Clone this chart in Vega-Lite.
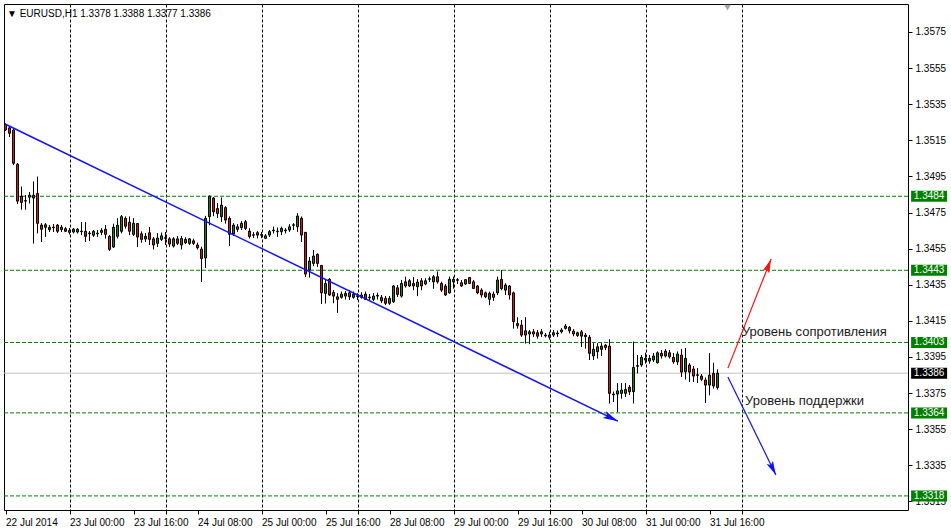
{
"$schema": "https://vega.github.io/schema/vega-lite/v6.json",
"width": 904, "height": 506,
"autosize": "none",
"padding": {"left": 4, "top": 4, "right": 43, "bottom": 20},
"background": "white",
"config": {"view": {"stroke": "#000", "strokeWidth": 1}, "font": "Liberation Sans", "axis": {"labelOverlap": false}, "scale": {"continuousPadding": 0}},
"title": {"text": "▼ EURUSD,H1   1.3378 1.3388 1.3377 1.3386", "anchor": "start", "orient": "top", "offset": -15, "dx": 5, "fontSize": 10, "fontWeight": "normal", "font": "Liberation Sans", "color": "#000"},
"datasets": {
"candles": [
{"i":0,"o":1.35237,"h":1.35243,"l":1.35201,"c":1.35207},
{"i":1,"o":1.35219,"h":1.35225,"l":1.35168,"c":1.35189},
{"i":2,"o":1.35207,"h":1.35213,"l":1.35013,"c":1.35023},
{"i":3,"o":1.35017,"h":1.35024,"l":1.34797,"c":1.34813},
{"i":4,"o":1.34841,"h":1.34893,"l":1.34767,"c":1.34806},
{"i":5,"o":1.34813,"h":1.34846,"l":1.34767,"c":1.34816},
{"i":6,"o":1.34835,"h":1.34863,"l":1.34801,"c":1.34846},
{"i":7,"o":1.34830,"h":1.34921,"l":1.34579,"c":1.34846},
{"i":8,"o":1.34856,"h":1.34948,"l":1.34635,"c":1.34690},
{"i":9,"o":1.34680,"h":1.34690,"l":1.34588,"c":1.34657},
{"i":10,"o":1.34668,"h":1.34690,"l":1.34616,"c":1.34682},
{"i":11,"o":1.34668,"h":1.34680,"l":1.34642,"c":1.34655},
{"i":12,"o":1.34669,"h":1.34686,"l":1.34642,"c":1.34666},
{"i":13,"o":1.34680,"h":1.34686,"l":1.34636,"c":1.34646},
{"i":14,"o":1.34655,"h":1.34680,"l":1.34642,"c":1.34669},
{"i":15,"o":1.34660,"h":1.34669,"l":1.34642,"c":1.34646},
{"i":16,"o":1.34651,"h":1.34664,"l":1.34629,"c":1.34640},
{"i":17,"o":1.34642,"h":1.34664,"l":1.34635,"c":1.34658},
{"i":18,"o":1.34642,"h":1.34662,"l":1.34635,"c":1.34657},
{"i":19,"o":1.34647,"h":1.34697,"l":1.34625,"c":1.34644},
{"i":20,"o":1.34646,"h":1.34695,"l":1.34588,"c":1.34618},
{"i":21,"o":1.34632,"h":1.34647,"l":1.34592,"c":1.34636},
{"i":22,"o":1.34624,"h":1.34653,"l":1.34616,"c":1.34646},
{"i":23,"o":1.34632,"h":1.34653,"l":1.34616,"c":1.34636},
{"i":24,"o":1.34640,"h":1.34662,"l":1.34625,"c":1.34651},
{"i":25,"o":1.34657,"h":1.34680,"l":1.34607,"c":1.34629},
{"i":26,"o":1.34618,"h":1.34625,"l":1.34538,"c":1.34546},
{"i":27,"o":1.34559,"h":1.34687,"l":1.34555,"c":1.34668},
{"i":28,"o":1.34618,"h":1.34717,"l":1.34607,"c":1.34680},
{"i":29,"o":1.34646,"h":1.34736,"l":1.34635,"c":1.34727},
{"i":30,"o":1.34718,"h":1.34727,"l":1.34662,"c":1.34674},
{"i":31,"o":1.34696,"h":1.34727,"l":1.34625,"c":1.34646},
{"i":32,"o":1.34629,"h":1.34718,"l":1.34621,"c":1.34690},
{"i":33,"o":1.34689,"h":1.34690,"l":1.34559,"c":1.34614},
{"i":34,"o":1.34632,"h":1.34644,"l":1.34584,"c":1.34601},
{"i":35,"o":1.34603,"h":1.34635,"l":1.34588,"c":1.34618},
{"i":36,"o":1.34638,"h":1.34669,"l":1.34570,"c":1.34601},
{"i":37,"o":1.34604,"h":1.34614,"l":1.34546,"c":1.34570},
{"i":38,"o":1.34579,"h":1.34635,"l":1.34560,"c":1.34608},
{"i":39,"o":1.34601,"h":1.34638,"l":1.34593,"c":1.34621},
{"i":40,"o":1.34611,"h":1.34642,"l":1.34570,"c":1.34606},
{"i":41,"o":1.34604,"h":1.34612,"l":1.34560,"c":1.34575},
{"i":42,"o":1.34564,"h":1.34612,"l":1.34557,"c":1.34604},
{"i":43,"o":1.34604,"h":1.34620,"l":1.34570,"c":1.34579},
{"i":44,"o":1.34570,"h":1.34620,"l":1.34546,"c":1.34606},
{"i":45,"o":1.34601,"h":1.34612,"l":1.34575,"c":1.34582},
{"i":46,"o":1.34579,"h":1.34608,"l":1.34570,"c":1.34604},
{"i":47,"o":1.34593,"h":1.34604,"l":1.34571,"c":1.34579},
{"i":48,"o":1.34570,"h":1.34582,"l":1.34546,"c":1.34555},
{"i":49,"o":1.34547,"h":1.34560,"l":1.34366,"c":1.34495},
{"i":50,"o":1.34498,"h":1.34731,"l":1.34444,"c":1.34718},
{"i":51,"o":1.34727,"h":1.34843,"l":1.34680,"c":1.34840},
{"i":52,"o":1.34830,"h":1.34836,"l":1.34730,"c":1.34754},
{"i":53,"o":1.34772,"h":1.34802,"l":1.34721,"c":1.34744},
{"i":54,"o":1.34727,"h":1.34832,"l":1.34699,"c":1.34791},
{"i":55,"o":1.34777,"h":1.34783,"l":1.34690,"c":1.34708},
{"i":56,"o":1.34718,"h":1.34727,"l":1.34566,"c":1.34629},
{"i":57,"o":1.34631,"h":1.34690,"l":1.34620,"c":1.34680},
{"i":58,"o":1.34671,"h":1.34685,"l":1.34644,"c":1.34657},
{"i":59,"o":1.34666,"h":1.34703,"l":1.34653,"c":1.34690},
{"i":60,"o":1.34699,"h":1.34708,"l":1.34653,"c":1.34662},
{"i":61,"o":1.34647,"h":1.34662,"l":1.34607,"c":1.34617},
{"i":62,"o":1.34627,"h":1.34640,"l":1.34610,"c":1.34624},
{"i":63,"o":1.34638,"h":1.34647,"l":1.34607,"c":1.34625},
{"i":64,"o":1.34624,"h":1.34642,"l":1.34608,"c":1.34628},
{"i":65,"o":1.34607,"h":1.34629,"l":1.34603,"c":1.34621},
{"i":66,"o":1.34625,"h":1.34653,"l":1.34616,"c":1.34644},
{"i":67,"o":1.34649,"h":1.34671,"l":1.34635,"c":1.34653},
{"i":68,"o":1.34644,"h":1.34666,"l":1.34616,"c":1.34647},
{"i":69,"o":1.34644,"h":1.34671,"l":1.34625,"c":1.34662},
{"i":70,"o":1.34649,"h":1.34662,"l":1.34635,"c":1.34653},
{"i":71,"o":1.34653,"h":1.34684,"l":1.34644,"c":1.34671},
{"i":72,"o":1.34679,"h":1.34690,"l":1.34653,"c":1.34682},
{"i":73,"o":1.34671,"h":1.34745,"l":1.34644,"c":1.34730},
{"i":74,"o":1.34718,"h":1.34727,"l":1.34588,"c":1.34625},
{"i":75,"o":1.34640,"h":1.34642,"l":1.34394,"c":1.34409},
{"i":76,"o":1.34431,"h":1.34502,"l":1.34391,"c":1.34481},
{"i":77,"o":1.34468,"h":1.34542,"l":1.34453,"c":1.34509},
{"i":78,"o":1.34518,"h":1.34523,"l":1.34450,"c":1.34468},
{"i":79,"o":1.34457,"h":1.34459,"l":1.34243,"c":1.34305},
{"i":80,"o":1.34302,"h":1.34381,"l":1.34247,"c":1.34357},
{"i":81,"o":1.34380,"h":1.34385,"l":1.34289,"c":1.34293},
{"i":82,"o":1.34307,"h":1.34320,"l":1.34248,"c":1.34287},
{"i":83,"o":1.34283,"h":1.34302,"l":1.34195,"c":1.34269},
{"i":84,"o":1.34280,"h":1.34311,"l":1.34274,"c":1.34298},
{"i":85,"o":1.34287,"h":1.34315,"l":1.34269,"c":1.34302},
{"i":86,"o":1.34305,"h":1.34320,"l":1.34265,"c":1.34283},
{"i":87,"o":1.34280,"h":1.34311,"l":1.34274,"c":1.34298},
{"i":88,"o":1.34289,"h":1.34302,"l":1.34265,"c":1.34285},
{"i":89,"o":1.34280,"h":1.34307,"l":1.34274,"c":1.34293},
{"i":90,"o":1.34298,"h":1.34311,"l":1.34265,"c":1.34269},
{"i":91,"o":1.34278,"h":1.34298,"l":1.34261,"c":1.34281},
{"i":92,"o":1.34269,"h":1.34302,"l":1.34261,"c":1.34287},
{"i":93,"o":1.34287,"h":1.34305,"l":1.34269,"c":1.34291},
{"i":94,"o":1.34280,"h":1.34293,"l":1.34250,"c":1.34261},
{"i":95,"o":1.34274,"h":1.34287,"l":1.34237,"c":1.34247},
{"i":96,"o":1.34247,"h":1.34287,"l":1.34239,"c":1.34274},
{"i":97,"o":1.34256,"h":1.34348,"l":1.34250,"c":1.34343},
{"i":98,"o":1.34333,"h":1.34348,"l":1.34283,"c":1.34296},
{"i":99,"o":1.34287,"h":1.34376,"l":1.34280,"c":1.34357},
{"i":100,"o":1.34366,"h":1.34394,"l":1.34335,"c":1.34343},
{"i":101,"o":1.34343,"h":1.34380,"l":1.34339,"c":1.34372},
{"i":102,"o":1.34357,"h":1.34391,"l":1.34320,"c":1.34343},
{"i":103,"o":1.34339,"h":1.34380,"l":1.34287,"c":1.34365},
{"i":104,"o":1.34372,"h":1.34385,"l":1.34320,"c":1.34343},
{"i":105,"o":1.34354,"h":1.34385,"l":1.34348,"c":1.34372},
{"i":106,"o":1.34380,"h":1.34394,"l":1.34366,"c":1.34383},
{"i":107,"o":1.34366,"h":1.34403,"l":1.34329,"c":1.34394},
{"i":108,"o":1.34394,"h":1.34422,"l":1.34357,"c":1.34366},
{"i":109,"o":1.34357,"h":1.34366,"l":1.34311,"c":1.34320},
{"i":110,"o":1.34343,"h":1.34354,"l":1.34289,"c":1.34293},
{"i":111,"o":1.34305,"h":1.34394,"l":1.34302,"c":1.34380},
{"i":112,"o":1.34366,"h":1.34394,"l":1.34329,"c":1.34380},
{"i":113,"o":1.34378,"h":1.34385,"l":1.34354,"c":1.34374},
{"i":114,"o":1.34361,"h":1.34376,"l":1.34339,"c":1.34343},
{"i":115,"o":1.34354,"h":1.34380,"l":1.34350,"c":1.34378},
{"i":116,"o":1.34390,"h":1.34392,"l":1.34354,"c":1.34357},
{"i":117,"o":1.34366,"h":1.34376,"l":1.34326,"c":1.34329},
{"i":118,"o":1.34343,"h":1.34348,"l":1.34298,"c":1.34305},
{"i":119,"o":1.34320,"h":1.34329,"l":1.34280,"c":1.34293},
{"i":120,"o":1.34305,"h":1.34311,"l":1.34276,"c":1.34283},
{"i":121,"o":1.34269,"h":1.34311,"l":1.34237,"c":1.34302},
{"i":122,"o":1.34298,"h":1.34311,"l":1.34261,"c":1.34280},
{"i":123,"o":1.34305,"h":1.34394,"l":1.34293,"c":1.34376},
{"i":124,"o":1.34380,"h":1.34431,"l":1.34320,"c":1.34329},
{"i":125,"o":1.34320,"h":1.34357,"l":1.34293,"c":1.34348},
{"i":126,"o":1.34343,"h":1.34348,"l":1.34269,"c":1.34293},
{"i":127,"o":1.34305,"h":1.34311,"l":1.34108,"c":1.34145},
{"i":128,"o":1.34135,"h":1.34169,"l":1.34108,"c":1.34123},
{"i":129,"o":1.34126,"h":1.34154,"l":1.34062,"c":1.34071},
{"i":130,"o":1.34095,"h":1.34169,"l":1.34025,"c":1.34071},
{"i":131,"o":1.34077,"h":1.34099,"l":1.34021,"c":1.34089},
{"i":132,"o":1.34089,"h":1.34103,"l":1.34062,"c":1.34077},
{"i":133,"o":1.34084,"h":1.34099,"l":1.34052,"c":1.34065},
{"i":134,"o":1.34077,"h":1.34103,"l":1.34062,"c":1.34089},
{"i":135,"o":1.34067,"h":1.34081,"l":1.34059,"c":1.34071},
{"i":136,"o":1.34059,"h":1.34089,"l":1.34047,"c":1.34071},
{"i":137,"o":1.34084,"h":1.34099,"l":1.34062,"c":1.34071},
{"i":138,"o":1.34078,"h":1.34095,"l":1.34062,"c":1.34082},
{"i":139,"o":1.34089,"h":1.34108,"l":1.34081,"c":1.34099},
{"i":140,"o":1.34108,"h":1.34132,"l":1.34103,"c":1.34121},
{"i":141,"o":1.34114,"h":1.34121,"l":1.34081,"c":1.34095},
{"i":142,"o":1.34093,"h":1.34103,"l":1.34065,"c":1.34077},
{"i":143,"o":1.34069,"h":1.34089,"l":1.34062,"c":1.34084},
{"i":144,"o":1.34089,"h":1.34099,"l":1.34006,"c":1.34065},
{"i":145,"o":1.34071,"h":1.34081,"l":1.33997,"c":1.34062},
{"i":146,"o":1.34059,"h":1.34071,"l":1.33933,"c":1.33970},
{"i":147,"o":1.33955,"h":1.34025,"l":1.33933,"c":1.33992},
{"i":148,"o":1.33979,"h":1.34025,"l":1.33942,"c":1.34006},
{"i":149,"o":1.34010,"h":1.34025,"l":1.33955,"c":1.33992},
{"i":150,"o":1.34015,"h":1.34021,"l":1.33988,"c":1.34002},
{"i":151,"o":1.34010,"h":1.34047,"l":1.33693,"c":1.33748},
{"i":152,"o":1.33744,"h":1.33757,"l":1.33701,"c":1.33740},
{"i":153,"o":1.33744,"h":1.33804,"l":1.33646,"c":1.33762},
{"i":154,"o":1.33748,"h":1.33804,"l":1.33720,"c":1.33766},
{"i":155,"o":1.33748,"h":1.33804,"l":1.33729,"c":1.33770},
{"i":156,"o":1.33782,"h":1.33794,"l":1.33739,"c":1.33757},
{"i":157,"o":1.33757,"h":1.34034,"l":1.33693,"c":1.33892},
{"i":158,"o":1.33898,"h":1.33960,"l":1.33859,"c":1.33902},
{"i":159,"o":1.33905,"h":1.33960,"l":1.33896,"c":1.33948},
{"i":160,"o":1.33942,"h":1.33973,"l":1.33914,"c":1.33933},
{"i":161,"o":1.33927,"h":1.33960,"l":1.33914,"c":1.33942},
{"i":162,"o":1.33933,"h":1.33970,"l":1.33923,"c":1.33955},
{"i":163,"o":1.33918,"h":1.33979,"l":1.33914,"c":1.33973},
{"i":164,"o":1.33970,"h":1.33988,"l":1.33942,"c":1.33955},
{"i":165,"o":1.33955,"h":1.33992,"l":1.33948,"c":1.33982},
{"i":166,"o":1.33973,"h":1.33988,"l":1.33942,"c":1.33951},
{"i":167,"o":1.33948,"h":1.33970,"l":1.33914,"c":1.33923},
{"i":168,"o":1.33923,"h":1.33979,"l":1.33905,"c":1.33966},
{"i":169,"o":1.33960,"h":1.33992,"l":1.33840,"c":1.33866},
{"i":170,"o":1.33868,"h":1.33999,"l":1.33826,"c":1.33942},
{"i":171,"o":1.33905,"h":1.33914,"l":1.33812,"c":1.33866},
{"i":172,"o":1.33883,"h":1.33899,"l":1.33812,"c":1.33844},
{"i":173,"o":1.33848,"h":1.33887,"l":1.33807,"c":1.33851},
{"i":174,"o":1.33844,"h":1.33855,"l":1.33816,"c":1.33826},
{"i":175,"o":1.33822,"h":1.33835,"l":1.33696,"c":1.33794},
{"i":176,"o":1.33794,"h":1.33970,"l":1.33738,"c":1.33849},
{"i":177,"o":1.33859,"h":1.33917,"l":1.33776,"c":1.33789},
{"i":178,"o":1.3378,"h":1.3388,"l":1.3377,"c":1.3386}
],
"levels": [{"p":1.3484},{"p":1.3443},{"p":1.3403},{"p":1.3364},{"p":1.3318}],
"bid": [{"p":1.3386}],
"trend": [{"i":-0.125,"p":1.35240},{"i":153.1,"p":1.33594}],
"up": [{"i":180.6,"p":1.33888},{"i":191.4,"p":1.34492}],
"down": [{"i":180.6,"p":1.33839},{"i":192.6,"p":1.33296}],
"notes": [{"i":184.1,"p":1.34088,"t":"Уровень сопротивления"},{"i":184.9,"p":1.33705,"t":"Уровень поддержки"}],
"shift": [{"i":180.5,"p":1.35885}]
},
"layer": [
{"data": {"name": "candles"}, "mark": {"type": "rule", "color": "#000", "strokeWidth": 1},
 "encoding": {
  "x": {"field": "i", "type": "quantitative", "scale": {"domain": [-0.375, 225.625], "nice": false, "zero": false, "padding": 0},
   "axis": {"orient": "bottom", "title": null, "domain": false, "values": [0,16,32,40,48,64,80,88,96,112,128,136,144,160,176,184], "tickCount": 40,
    "grid": true, "gridColor": "#000", "gridDash": [3,2], "gridWidth": 1,
    "gridOpacity": {"condition": {"test": "(datum.value - 16) % 24 == 0", "value": 1}, "value": 0},
    "labelExpr": "datum.value % 16 == 0 ? ['22 Jul 2014','23 Jul 00:00','23 Jul 16:00','24 Jul 08:00','25 Jul 00:00','25 Jul 16:00','28 Jul 08:00','29 Jul 00:00','29 Jul 16:00','30 Jul 08:00','31 Jul 00:00','31 Jul 16:00','',''][datum.value / 16] : ''",
    "labelAlign": "left", "labelBaseline": "top", "labelPadding": 3, "labelFont": "Liberation Sans Narrow, Liberation Sans", "labelFontSize": 10, "labelColor": "#000",
    "labelOverlap": false, "labelFlush": false, "labelBound": false,
    "ticks": true, "tickColor": "#000", "tickSize": 4, "zindex": 0}},
  "y": {"field": "l", "type": "quantitative", "scale": {"domain": [1.33102, 1.35905], "nice": false, "zero": false, "padding": 0},
   "axis": {"orient": "right", "title": null, "domain": false, "grid": false, "tickCount": 40,
    "values": [1.3315,1.3335,1.3355,1.3375,1.3395,1.3415,1.3435,1.3455,1.3475,1.3495,1.3515,1.3535,1.3555,1.3575],
    "format": ".4f", "labelFont": "Liberation Sans", "labelFontSize": 10, "labelColor": "#000", "labelPadding": 3,
    "tickColor": "#000", "tickSize": 4, "labelOverlap": false, "labelFlush": false, "labelBound": false, "zindex": 0}},
  "y2": {"field": "h"}
 }},
{"data": {"name": "levels"}, "mark": {"type": "rule", "color": "#008000", "strokeDash": [4,2], "strokeWidth": 1},
 "encoding": {"y": {"field": "p", "type": "quantitative", "scale": {"domain": [1.33102, 1.35905], "nice": false, "zero": false, "padding": 0}}}},
{"data": {"name": "bid"}, "mark": {"type": "rule", "color": "#c0c0c0", "strokeWidth": 1},
 "encoding": {"y": {"field": "p", "type": "quantitative", "scale": {"domain": [1.33102, 1.35905], "nice": false, "zero": false, "padding": 0}}}},
{"data": {"name": "shift"}, "mark": {"type": "point", "shape": "triangle-down", "filled": true, "color": "#a8a8a8", "opacity": 1, "size": 45},
 "encoding": {
  "x": {"field": "i", "type": "quantitative", "scale": {"domain": [-0.375, 225.625], "nice": false, "zero": false, "padding": 0}},
  "y": {"field": "p", "type": "quantitative", "scale": {"domain": [1.33102, 1.35905], "nice": false, "zero": false, "padding": 0}}}},
{"data": {"name": "candles"}, "mark": {"type": "rule", "color": "#000", "strokeWidth": 1},
 "encoding": {
  "x": {"field": "i", "type": "quantitative", "scale": {"domain": [-0.375, 225.625], "nice": false, "zero": false, "padding": 0}},
  "y": {"field": "l", "type": "quantitative", "scale": {"domain": [1.33102, 1.35905], "nice": false, "zero": false, "padding": 0}},
  "y2": {"field": "h"}}},
{"data": {"name": "candles"}, "mark": {"type": "bar", "width": 2, "stroke": "#000", "strokeWidth": 1},
 "encoding": {
  "x": {"field": "i", "type": "quantitative", "scale": {"domain": [-0.375, 225.625], "nice": false, "zero": false, "padding": 0}},
  "y": {"field": "o", "type": "quantitative", "scale": {"domain": [1.33102, 1.35905], "nice": false, "zero": false, "padding": 0}},
  "y2": {"field": "c"},
  "fill": {"condition": {"test": "datum.c >= datum.o", "value": "#0a8a0a"}, "value": "#e01010"}}},
{"data": {"name": "trend"}, "mark": {"type": "line", "color": "#1010ff", "strokeWidth": 1.5},
 "encoding": {
  "x": {"field": "i", "type": "quantitative", "scale": {"domain": [-0.375, 225.625], "nice": false, "zero": false, "padding": 0}},
  "y": {"field": "p", "type": "quantitative", "scale": {"domain": [1.33102, 1.35905], "nice": false, "zero": false, "padding": 0}}}},
{"data": {"name": "up"}, "mark": {"type": "line", "color": "#ff1010", "strokeWidth": 1.2},
 "encoding": {
  "x": {"field": "i", "type": "quantitative", "scale": {"domain": [-0.375, 225.625], "nice": false, "zero": false, "padding": 0}},
  "y": {"field": "p", "type": "quantitative", "scale": {"domain": [1.33102, 1.35905], "nice": false, "zero": false, "padding": 0}}}},
{"data": {"name": "down"}, "mark": {"type": "line", "color": "#1010ff", "strokeWidth": 1.2},
 "encoding": {
  "x": {"field": "i", "type": "quantitative", "scale": {"domain": [-0.375, 225.625], "nice": false, "zero": false, "padding": 0}},
  "y": {"field": "p", "type": "quantitative", "scale": {"domain": [1.33102, 1.35905], "nice": false, "zero": false, "padding": 0}}}},
{"data": {"name": "trend"}, "transform": [{"filter": "datum.i > 0"}],
 "mark": {"type": "point", "shape": "M0,0L0.5,2L0,1.6L-0.5,2Z", "filled": true, "color": "#1010ff", "opacity": 1, "size": 225, "angle": 115.9},
 "encoding": {
  "x": {"field": "i", "type": "quantitative", "scale": {"domain": [-0.375, 225.625], "nice": false, "zero": false, "padding": 0}},
  "y": {"field": "p", "type": "quantitative", "scale": {"domain": [1.33102, 1.35905], "nice": false, "zero": false, "padding": 0}}}},
{"data": {"name": "up"}, "transform": [{"filter": "datum.i > 185"}],
 "mark": {"type": "point", "shape": "M0,0L0.5,2L0,1.6L-0.5,2Z", "filled": true, "color": "#ff1010", "opacity": 1, "size": 196, "angle": 21.5},
 "encoding": {
  "x": {"field": "i", "type": "quantitative", "scale": {"domain": [-0.375, 225.625], "nice": false, "zero": false, "padding": 0}},
  "y": {"field": "p", "type": "quantitative", "scale": {"domain": [1.33102, 1.35905], "nice": false, "zero": false, "padding": 0}}}},
{"data": {"name": "down"}, "transform": [{"filter": "datum.i > 185"}],
 "mark": {"type": "point", "shape": "M0,0L0.5,2L0,1.6L-0.5,2Z", "filled": true, "color": "#1010ff", "opacity": 1, "size": 196, "angle": 153.9},
 "encoding": {
  "x": {"field": "i", "type": "quantitative", "scale": {"domain": [-0.375, 225.625], "nice": false, "zero": false, "padding": 0}},
  "y": {"field": "p", "type": "quantitative", "scale": {"domain": [1.33102, 1.35905], "nice": false, "zero": false, "padding": 0}}}},
{"data": {"name": "notes"}, "mark": {"type": "text", "align": "left", "baseline": "middle", "font": "Liberation Sans", "fontSize": 13, "color": "#1a1a1a"},
 "encoding": {
  "x": {"field": "i", "type": "quantitative", "scale": {"domain": [-0.375, 225.625], "nice": false, "zero": false, "padding": 0}},
  "y": {"field": "p", "type": "quantitative", "scale": {"domain": [1.33102, 1.35905], "nice": false, "zero": false, "padding": 0}},
  "text": {"field": "t"}}},
{"data": {"name": "levels"}, "mark": {"type": "rule", "color": "#008000", "strokeWidth": 11, "strokeCap": "butt"},
 "encoding": {
  "x": {"datum": 226.4, "scale": {"domain": [-0.375, 225.625], "nice": false, "zero": false, "padding": 0}},
  "x2": {"datum": 235.4},
  "y": {"field": "p", "type": "quantitative", "scale": {"domain": [1.33102, 1.35905], "nice": false, "zero": false, "padding": 0}}}},
{"data": {"name": "bid"}, "mark": {"type": "rule", "color": "#000", "strokeWidth": 11, "strokeCap": "butt"},
 "encoding": {
  "x": {"datum": 226.4, "scale": {"domain": [-0.375, 225.625], "nice": false, "zero": false, "padding": 0}},
  "x2": {"datum": 235.4},
  "y": {"field": "p", "type": "quantitative", "scale": {"domain": [1.33102, 1.35905], "nice": false, "zero": false, "padding": 0}}}},
{"data": {"name": "levels"}, "mark": {"type": "text", "align": "center", "baseline": "middle", "font": "Liberation Sans", "fontSize": 10, "color": "#fff"},
 "encoding": {
  "x": {"datum": 230.9, "scale": {"domain": [-0.375, 225.625], "nice": false, "zero": false, "padding": 0}},
  "y": {"field": "p", "type": "quantitative", "scale": {"domain": [1.33102, 1.35905], "nice": false, "zero": false, "padding": 0}},
  "text": {"field": "p", "type": "quantitative", "format": ".4f"}}},
{"data": {"name": "bid"}, "mark": {"type": "text", "align": "center", "baseline": "middle", "font": "Liberation Sans", "fontSize": 10, "color": "#fff"},
 "encoding": {
  "x": {"datum": 230.9, "scale": {"domain": [-0.375, 225.625], "nice": false, "zero": false, "padding": 0}},
  "y": {"field": "p", "type": "quantitative", "scale": {"domain": [1.33102, 1.35905], "nice": false, "zero": false, "padding": 0}},
  "text": {"field": "p", "type": "quantitative", "format": ".4f"}}}
]
}
